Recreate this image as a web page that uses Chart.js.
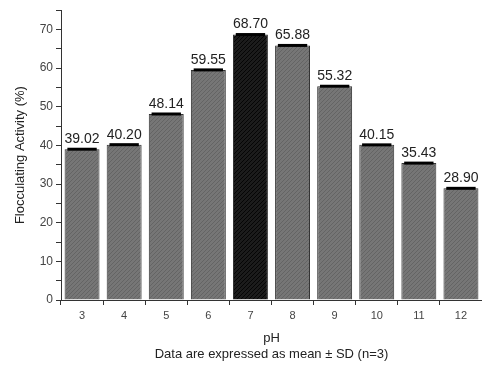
<!DOCTYPE html>
<html>
<head>
<meta charset="utf-8">
<script src="https://cdn.jsdelivr.net/npm/chart.js@4/dist/chart.umd.min.js"></script>
<style>
    html, body { margin: 0; padding: 0; background: #fff; }
    #wrap { width: 482px; height: 366px; }
</style>
</head>
<body>
<div id="wrap"><canvas id="phChart" width="482" height="366"></canvas></div>
<script>
const phLabels = ['3', '4', '5', '6', '7', '8', '9', '10', '11', '12'];
const activity = [39.02, 40.20, 48.14, 59.55, 68.70, 65.88, 55.32, 40.15, 35.43, 28.90];
const highlightIndex = 4;

function makeHatch(base, line) {
    const c = document.createElement('canvas');
    c.width = 4; c.height = 4;
    const g = c.getContext('2d');
    g.fillStyle = base;
    g.fillRect(0, 0, 4, 4);
    g.strokeStyle = line;
    g.lineWidth = 1;
    g.beginPath();
    g.moveTo(0, 4); g.lineTo(4, 0);
    g.stroke();
    return g.createPattern(c, 'repeat');
}

const greyFill = makeHatch('#767676', '#646464');
const blackFill = makeHatch('#1c1c1c', '#050505');

// caps on top of bars + value labels
const capsAndLabels = {
    id: 'capsAndLabels',
    afterDatasetsDraw(chart) {
        const ctx = chart.ctx;
        const meta = chart.getDatasetMeta(0);
        ctx.save();
        meta.data.forEach((bar, i) => {
            const half = bar.width * 0.42;
            ctx.strokeStyle = '#000';
            ctx.lineWidth = 3;
            ctx.beginPath();
            ctx.moveTo(bar.x - half, bar.y);
            ctx.lineTo(bar.x + half, bar.y);
            ctx.stroke();

            ctx.fillStyle = '#222';
            ctx.font = '14px "Liberation Sans", Arial, sans-serif';
            ctx.textAlign = 'center';
            ctx.textBaseline = 'bottom';
            ctx.fillText(activity[i].toFixed(2), bar.x, bar.y - 3);
        });
        ctx.restore();
    }
};

const ctx = document.getElementById('phChart').getContext('2d');
new Chart(ctx, {
    type: 'bar',
    data: {
        labels: phLabels,
        datasets: [{
            data: activity,
            backgroundColor: activity.map((v, i) => i === highlightIndex ? blackFill : greyFill),
            borderColor: '#333',
            borderWidth: 1,
            barPercentage: 0.83,
            categoryPercentage: 1.0
        }]
    },
    options: {
        responsive: false,
        animation: false,
        layout: { padding: { top: 8, right: 0, bottom: 0, left: 13 } },
        plugins: {
            legend: { display: false },
            tooltip: { enabled: false }
        },
        scales: {
            x: {
                grid: { drawOnChartArea: false, tickLength: 5, color: '#333' },
                border: { color: '#333', width: 1 },
                ticks: { color: '#444', font: { size: 11, family: '"Liberation Sans", Arial, sans-serif' }, padding: 4, maxRotation: 0 },
                title: {
                    display: true,
                    text: ['pH', 'Data are expressed as mean \u00b1 SD (n=3)'],
                    color: '#222',
                    font: { size: 13, family: '"Liberation Sans", Arial, sans-serif', lineHeight: 1.2 },
                    padding: { top: 4, bottom: 4 }
                },
                afterFit(scale) { scale.height = 66; }
            },
            y: {
                min: 0,
                max: 75,
                grid: { drawOnChartArea: false, tickLength: 5, color: '#333' },
                border: { color: '#333', width: 1 },
                ticks: {
                    stepSize: 5,
                    color: '#444',
                    font: { size: 12, family: '"Liberation Sans", Arial, sans-serif' },
                    padding: 3,
                    callback: v => (v % 10 === 0 ? v : '')
                },
                title: {
                    display: true,
                    text: 'Flocculating Activity (%)',
                    color: '#222',
                    font: { size: 13, family: '"Liberation Sans", Arial, sans-serif' },
                    padding: { top: 0, bottom: 2 }
                },
                afterFit(scale) { scale.width = 48; }
            }
        }
    },
    plugins: [capsAndLabels]
});
</script>
</body>
</html>
